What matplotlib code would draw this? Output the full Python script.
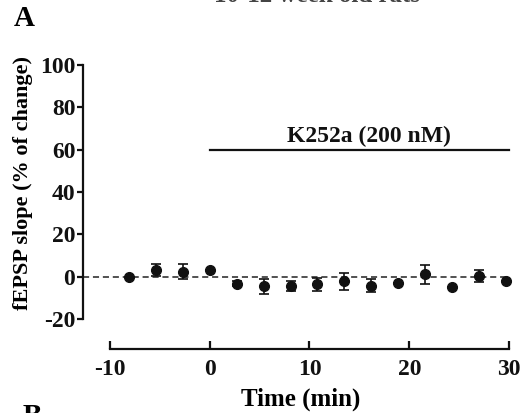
import matplotlib
matplotlib.use("Agg")
import matplotlib.pyplot as plt

# ── data ─────────────────────────────────────────────────────────────────────
time_min = [-8.1, -5.4, -2.7, 0.0, 2.7, 5.4, 8.1, 10.8, 13.5, 16.2, 18.9, 21.6, 24.3, 27.0, 29.7]
slope_pct = [0.0, 3.0, 2.3, 3.0, -3.3, -4.5, -4.5, -3.7, -2.3, -4.3, -3.2, 1.2, -5.0, 0.3, -2.2]
slope_err = [0.0, 2.8, 3.5, 0.0, 1.2, 3.5, 2.5, 3.0, 4.0, 3.0, 0.0, 4.5, 0.0, 3.0, 0.0]

drug_label = "K252a (200 nM)"
drug_span = [0, 30]
drug_level = 60

x_ticks = [-10, 0, 10, 20, 30]
y_ticks = [-20, 0, 20, 40, 60, 80, 100]

# ── style ────────────────────────────────────────────────────────────────────
plt.rcParams["font.family"] = ["Liberation Serif", "DejaVu Serif"]
plt.rcParams["font.weight"] = "bold"
plt.rcParams["axes.unicode_minus"] = False

fig = plt.figure(figsize=(5.26, 4.13), dpi=100)
ax = fig.add_axes([0.1578, 0.155, 0.8289, 0.6978])

ax.axhline(0, xmin=0, xmax=0.977, color="#222222", linewidth=1.1,
           linestyle=(0, (4, 2.5)), zorder=1)

ax.errorbar(time_min, slope_pct, yerr=slope_err, fmt="o", color="#111111",
            markersize=7, capsize=3.5, elinewidth=1.2, capthick=1.2, zorder=3)

# drug application bar
ax.plot(drug_span, [drug_level, drug_level], color="#111111", linewidth=1.6)
ax.text(16, drug_level + 1.2, drug_label, ha="center", va="bottom",
        fontsize=17, fontweight="bold", color="#111111")

ax.set_xlim(-12.7, 31)
ax.set_ylim(-34.2, 102)
ax.set_xticks(x_ticks)
ax.set_yticks(y_ticks)

for side in ("top", "right"):
    ax.spines[side].set_visible(False)
ax.spines["left"].set_bounds(-20, 100)
ax.spines["bottom"].set_bounds(-10, 30)
for side in ("left", "bottom"):
    ax.spines[side].set_linewidth(1.6)
    ax.spines[side].set_color("#111111")

ax.tick_params(axis="y", direction="out", length=4.5, width=1.6, pad=1,
               labelsize=17, colors="#111111")
ax.tick_params(axis="x", direction="in", length=5.5, width=1.6, pad=7,
               labelsize=17, colors="#111111")
for lab in ax.get_xticklabels() + ax.get_yticklabels():
    lab.set_fontweight("bold")

ax.set_xlabel("Time (min)", fontsize=18, fontweight="bold", labelpad=6)
ax.set_ylabel("fEPSP slope (% of change)", fontsize=16, fontweight="bold")
ax.yaxis.set_label_coords(-0.115, 0.576)

# panel letters / cropped heading (cut off at the figure edge as in the source)
fig.text(0.046, 0.956, "A", fontsize=21, fontweight="bold", ha="center", va="center")
fig.text(0.603, 0.994, "10-12 week old rats", fontsize=18, fontweight="bold",
         ha="center", va="baseline", color="#444444")
fig.text(0.042, 0.024, "B", fontsize=21, fontweight="bold", ha="left", va="top")

fig.savefig("out.png", dpi=100)
